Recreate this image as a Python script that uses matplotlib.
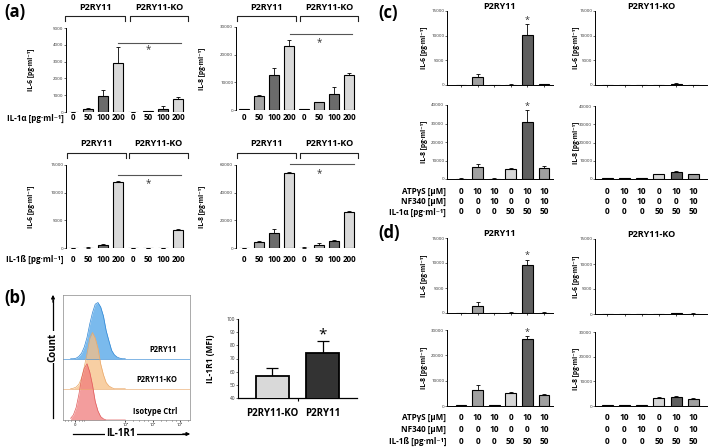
import numpy as np
import matplotlib
matplotlib.use('Agg')
import matplotlib.pyplot as plt
from matplotlib.transforms import blended_transform_factory

plt.rcParams['font.family'] = ['Open Sans', 'DejaVu Sans']

W, H = 709, 447

# ---------------- data ----------------
# (a) dose response, P2RY11 (first 4) and P2RY11-KO (last 4)
dose_labels = ['0', '50', '100', '200', '0', '50', '100', '200']
dose_colors = ['white', '#a6a6a6', '#6b6b6b', '#d9d9d9'] * 2
a_il6_il1a = [20, 200, 950, 2900, 10, 50, 200, 800]
a_il6_il1a_err = [0, 30, 350, 950, 0, 10, 130, 70]
a_il8_il1a = [200, 5000, 12500, 23000, 300, 2800, 5800, 12500]
a_il8_il1a_err = [100, 500, 2500, 2300, 150, 200, 2600, 1000]
a_il6_il1b = [10, 80, 600, 12000, 0, 0, 50, 3200]
a_il6_il1b_err = [0, 40, 200, 150, 0, 0, 30, 300]
a_il8_il1b = [100, 4500, 11000, 54000, 300, 2500, 5000, 26000]
a_il8_il1b_err = [50, 500, 2500, 1000, 100, 800, 500, 500]

# (b) flow histograms (relative counts) and MFI
hist_bins = [1.0, 1.1, 1.2, 1.3, 1.4, 1.5, 1.6, 1.7, 1.8, 1.9, 2.0,
             2.1, 2.2, 2.3, 2.4, 2.5, 2.6, 2.7, 2.8, 2.9, 3.0]
hist_p2ry11 = [0, 0, 0.01, 0.04, 0.1, 0.21, 0.38, 0.62, 0.82, 0.97, 1.0,
               0.92, 0.76, 0.5, 0.32, 0.15, 0.07, 0.03, 0.01, 0, 0]
hist_ko = [0, 0.01, 0.03, 0.08, 0.19, 0.39, 0.63, 0.9, 1.0, 0.9, 0.72,
           0.44, 0.25, 0.11, 0.05, 0.02, 0, 0, 0, 0, 0]
hist_iso = [0.03, 0.09, 0.22, 0.45, 0.74, 0.92, 1.0, 0.85, 0.62, 0.33, 0.16,
            0.06, 0.02, 0, 0, 0, 0, 0, 0, 0, 0]
mfi_labels = ['P2RY11-KO', 'P2RY11']
mfi = [56.5, 74]
mfi_err = [6, 9]

# (c)/(d) stimulation table
atp = ['0', '10', '10', '0', '10', '10']
nf340 = ['0', '0', '10', '0', '0', '10']
il1 = ['0', '0', '0', '50', '50', '50']
cond_colors = ['white', '#a0a0a0', 'white', '#d6d6d6', '#5f5f5f', '#a0a0a0']

c_wt_il6 = [20, 1600, 30, 100, 10100, 150]
c_wt_il6_err = [0, 700, 0, 50, 2300, 100]
c_wt_il8 = [200, 6700, 200, 5200, 31000, 5700]
c_wt_il8_err = [100, 1500, 100, 500, 6300, 1500]
c_ko_il6 = [10, 10, 10, 20, 250, 20]
c_ko_il6_err = [0, 0, 0, 0, 100, 0]
c_ko_il8 = [300, 500, 300, 2700, 4000, 2700]
c_ko_il8_err = [100, 100, 100, 300, 500, 300]

d_wt_il6 = [20, 1500, 30, 80, 9700, 100]
d_wt_il6_err = [0, 700, 0, 30, 1000, 50]
d_wt_il8 = [200, 6500, 200, 5000, 26500, 4500]
d_wt_il8_err = [100, 1700, 100, 500, 1000, 400]
d_ko_il6 = [10, 10, 10, 20, 200, 100]
d_ko_il6_err = [0, 0, 0, 0, 80, 50]
d_ko_il8 = [400, 400, 400, 3200, 3800, 3000]
d_ko_il8_err = [100, 100, 100, 300, 400, 300]

IL6 = 'IL-6 [pg·ml⁻¹]'
IL8 = 'IL-8 [pg·ml⁻¹]'

fig = plt.figure(figsize=(W / 100, H / 100), dpi=100)


def px_ax(x0, y0, x1, y1):
    return fig.add_axes([x0 / W, 1 - y1 / H, (x1 - x0) / W, (y1 - y0) / H])


def fx(x):
    return x / W


def fy(y):
    return 1 - y / H


def bar_panel(box, vals, errs, colors, ymax, ystep, ylabel, xlim, ylab_x,
              xaxis=False, xticks=False):
    ax = px_ax(*box)
    x = np.arange(len(vals))
    ax.bar(x, vals, width=0.64, color=colors, edgecolor='black', linewidth=0.8, zorder=3)
    ax.errorbar(x, vals, yerr=[np.zeros(len(errs)), errs], fmt='none', ecolor='black',
                elinewidth=0.6, capsize=1.6, capthick=0.6, zorder=2)
    ax.set_ylim(0, ymax)
    ax.set_xlim(*xlim)
    ax.set_yticks(np.arange(0, ymax + 1, ystep))
    ax.tick_params(axis='y', labelsize=3.2, length=1.5, width=0.5, pad=0.5, colors='#333333')
    for s in ['top', 'right']:
        ax.spines[s].set_visible(False)
    ax.spines['left'].set_linewidth(0.7)
    if xaxis:
        ax.spines['bottom'].set_linewidth(0.7)
    else:
        ax.spines['bottom'].set_visible(False)
    if xticks:
        ax.set_xticks(x)
        ax.tick_params(axis='x', length=1.5, width=0.5, labelbottom=False)
    else:
        ax.set_xticks([])
    ax.set_ylabel(ylabel, fontsize=4.8, fontweight='bold', labelpad=1)
    ax.yaxis.set_label_coords((ylab_x - box[0]) / (box[2] - box[0]), 0.5)
    return ax


def add_dose_labels(ax, box, ypx, row_label=None):
    tr = blended_transform_factory(ax.transData, ax.transAxes)
    yf = (box[3] - ypx) / (box[3] - box[1])
    for i, t in enumerate(dose_labels):
        ax.text(i, yf, t, transform=tr, ha='center', va='center', fontsize=5.8, fontweight='bold')
    if row_label:
        ax.text(-0.02, yf, row_label, transform=ax.transAxes, ha='right', va='center',
                fontsize=5.8, fontweight='bold')


def bracket(ax, box, x0, x1, label, ytop, ybot, ylab):
    tr = blended_transform_factory(ax.transData, ax.transAxes)
    h = box[3] - box[1]
    yt = (box[3] - ytop) / h
    yb = (box[3] - ybot) / h
    yl = (box[3] - ylab) / h
    ax.plot([x0, x0, x1, x1], [yb, yt, yt, yb], transform=tr, clip_on=False, color='#222222', lw=0.8)
    ax.text((x0 + x1) / 2, yl, label, transform=tr, ha='center', va='center',
            fontsize=6.5, fontweight='bold')


def sig(ax, x0, x1, yline, ystar):
    ax.plot([x0, x1], [yline, yline], color='#555555', lw=0.8, clip_on=False)
    ax.text(5, ystar, '*', ha='center', va='center', fontsize=7, color='#333333')


# ---------------- (a) ----------------
fig.text(fx(4), fy(12), '(a)', fontsize=12, fontweight='bold', va='center')

box = (66, 28, 190, 112)
ax = bar_panel(box, a_il6_il1a, a_il6_il1a_err, dose_colors, 5000, 1000, IL6, (-0.47, 7.8), 35)
bracket(ax, box, -0.53, 3.47, 'P2RY11', 16, 21, 8)
bracket(ax, box, 3.8, 7.67, 'P2RY11-KO', 16, 21, 8)
sig(ax, 3, 7.2, 4100, 3700)
add_dose_labels(ax, box, 118, 'IL-1α [pg·ml⁻¹]')

box = (236, 27, 360, 110)
ax = bar_panel(box, a_il8_il1a, a_il8_il1a_err, dose_colors, 30000, 10000, IL8, (-0.53, 7.73), 206)
bracket(ax, box, -0.47, 3.47, 'P2RY11', 16, 21, 8)
bracket(ax, box, 3.73, 7.6, 'P2RY11-KO', 16, 21, 8)
sig(ax, 3.1, 7.2, 27450, 24300)
add_dose_labels(ax, box, 118)

box = (66, 165, 190, 248)
ax = bar_panel(box, a_il6_il1b, a_il6_il1b_err, dose_colors, 15000, 5000, IL6, (-0.47, 7.8), 35)
bracket(ax, box, -0.4, 3.53, 'P2RY11', 153, 158, 144)
bracket(ax, box, 3.73, 7.67, 'P2RY11-KO', 153, 158, 144)
sig(ax, 3, 7.2, 13200, 11700)
add_dose_labels(ax, box, 259, 'IL-1ß [pg·ml⁻¹]')

box = (236, 165, 360, 248)
ax = bar_panel(box, a_il8_il1b, a_il8_il1b_err, dose_colors, 60000, 20000, IL8, (-0.53, 7.73), 206)
bracket(ax, box, -0.47, 3.47, 'P2RY11', 153, 158, 144)
bracket(ax, box, 3.73, 7.6, 'P2RY11-KO', 153, 158, 144)
sig(ax, 3.1, 7.3, 60600, 54000)
add_dose_labels(ax, box, 259)

# ---------------- (b) ----------------
fig.text(fx(4), fy(298), '(b)', fontsize=12, fontweight='bold', va='center')

axh = px_ax(63, 295, 190, 420)
offsets = [0.49, 0.25, 0.0]
hists = [hist_p2ry11, hist_ko, hist_iso]
fills = ['#4da3e8', '#f6bf85', '#f07c7c']
edges = ['#2f86d4', '#eaa868', '#e05a5a']
names = ['P2RY11', 'P2RY11-KO', 'Isotype Ctrl']
for off, hv, fc, ec, nm in zip(offsets, hists, fills, edges, names):
    top = off + 0.45 * np.array(hv)
    axh.fill_between(hist_bins, off, top, color=fc, alpha=0.75, lw=0)
    axh.plot(hist_bins, top, color=ec, lw=0.5)
    axh.axhline(off, color=ec, lw=0.6, alpha=0.7)
    axh.text(4.9, off + 0.07, nm, ha='right', va='center', fontsize=5.5, fontweight='bold')
axh.set_xlim(0.72, 5.37)
axh.set_ylim(0, 1)
axh.set_yticks([])
axh.set_xticks([1.16, 3, 4, 5], ['0', '10³', '10⁴', '10⁵'])
axh.set_xticks([0.8, 0.9, 1.0, 1.3, 1.4, 1.5, 3.3, 3.5, 3.7, 3.85, 4.3, 4.5, 4.7, 4.85, 5.3], minor=True)
axh.tick_params(axis='x', labelsize=3, length=1.5, width=0.5, pad=0.5)
axh.tick_params(axis='x', which='minor', length=1, width=0.4)
for s in axh.spines.values():
    s.set_linewidth(0.5)
    s.set_color('#888888')

fig.add_artist(plt.Line2D([fx(53), fx(53)], [fy(418), fy(300)], color='black', lw=0.9))
fig.add_artist(matplotlib.patches.FancyArrowPatch((fx(53), fy(305)), (fx(53), fy(292)),
               transform=fig.transFigure, arrowstyle='-|>', mutation_scale=5, color='black', lw=0.9))
fig.text(fx(53), fy(347), 'Count', rotation=90, ha='center', va='center', fontsize=7,
         fontweight='bold', bbox=dict(facecolor='white', edgecolor='none', pad=1))
fig.add_artist(plt.Line2D([fx(73), fx(185)], [fy(434), fy(434)], color='black', lw=0.9))
fig.add_artist(matplotlib.patches.FancyArrowPatch((fx(180), fy(434)), (fx(193), fy(434)),
               transform=fig.transFigure, arrowstyle='-|>', mutation_scale=5, color='black', lw=0.9))
fig.text(fx(121), fy(434), 'IL-1R1', ha='center', va='center', fontsize=7,
         fontweight='bold', bbox=dict(facecolor='white', edgecolor='none', pad=1))

box = (238, 319, 357, 398)
axm = px_ax(*box)
axm.bar([0, 1], mfi, width=0.65, color=['#d9d9d9', '#333333'], edgecolor='black', linewidth=1.3,
        bottom=0, zorder=3)
axm.errorbar([0, 1], mfi, yerr=[[0, 0], mfi_err], fmt='none', ecolor='black', elinewidth=0.9,
             capsize=4, capthick=0.9, zorder=2)
axm.text(1, mfi[1] + mfi_err[1] + 4.5, '*', ha='center', va='center', fontsize=11)
axm.set_ylim(40, 100)
axm.set_xlim(-0.67, 1.67)
axm.set_yticks(np.arange(40, 101, 10))
axm.set_xticks([0.5], [''])
axm.tick_params(axis='x', length=2, width=0.8)
axm.tick_params(axis='y', labelsize=3.5, length=1.5, width=0.5, pad=0.5, colors='#333333')
for s in ['top', 'right']:
    axm.spines[s].set_visible(False)
axm.spines['left'].set_linewidth(0.8)
axm.spines['bottom'].set_linewidth(0.9)
for i, t in enumerate(mfi_labels):
    axm.text(i, -0.19, t, transform=blended_transform_factory(axm.transData, axm.transAxes),
             ha='center', va='center', fontsize=7, fontweight='bold')
axm.set_ylabel('IL-1R1 (MFI)', fontsize=6, fontweight='bold')
axm.yaxis.set_label_coords((215 - 238) / 119, 0.5)


# ---------------- (c) and (d) ----------------
def table(ax, box, rows_px, labels):
    tr = blended_transform_factory(ax.transData, ax.transAxes)
    h = box[3] - box[1]
    for vals, ypx, lab in zip([atp, nf340, il1], rows_px, labels or [None] * 3):
        yf = (box[3] - ypx) / h
        for i, t in enumerate(vals):
            ax.text(i, yf, t, transform=tr, ha='center', va='center', fontsize=6, fontweight='bold')
        if lab:
            ax.text(-0.01, yf, lab, transform=ax.transAxes, ha='right', va='center',
                    fontsize=5.8, fontweight='bold')


def star(ax, vals, errs, ymax):
    ax.text(4, vals[4] + errs[4] + 0.05 * ymax, '*', ha='center', va='center', fontsize=6.5,
            color='#333333', clip_on=False)


xl_wt = (-0.85, 5.55)
xl_ko = (-0.72, 5.8)

fig.text(fx(378), fy(13), '(c)', fontsize=12, fontweight='bold', va='center')
box = (447, 11, 553, 85)
ax = bar_panel(box, c_wt_il6, c_wt_il6_err, cond_colors, 15000, 5000, IL6, xl_wt, 428, True, True)
star(ax, c_wt_il6, c_wt_il6_err, 15000)
ax.set_title('P2RY11', fontsize=6.5, fontweight='bold', pad=1)
box = (447, 105, 553, 179)
ax = bar_panel(box, c_wt_il8, c_wt_il8_err, cond_colors, 40000, 10000, IL8, xl_wt, 428, True)
star(ax, c_wt_il8, c_wt_il8_err, 40000)
table(ax, box, [191, 202, 212], ['ATPγS [µM]', 'NF340 [µM]', 'IL-1α [pg·ml⁻¹]'])

box = (595, 11, 707, 85)
ax = bar_panel(box, c_ko_il6, c_ko_il6_err, cond_colors, 15000, 5000, IL6, xl_ko, 580, True, True)
ax.set_title('P2RY11-KO', fontsize=6.5, fontweight='bold', pad=1)
box = (595, 106, 707, 179)
ax = bar_panel(box, c_ko_il8, c_ko_il8_err, cond_colors, 40000, 10000, IL8, xl_ko, 580, True)
table(ax, box, [191, 202, 212], None)

fig.text(fx(378), fy(233), '(d)', fontsize=12, fontweight='bold', va='center')
box = (447, 238, 553, 313)
ax = bar_panel(box, d_wt_il6, d_wt_il6_err, cond_colors, 15000, 5000, IL6, xl_wt, 428, True, True)
star(ax, d_wt_il6, d_wt_il6_err, 15000)
ax.set_title('P2RY11', fontsize=6.5, fontweight='bold', pad=1)
box = (447, 330, 553, 406)
ax = bar_panel(box, d_wt_il8, d_wt_il8_err, cond_colors, 30000, 10000, IL8, xl_wt, 428, True)
star(ax, d_wt_il8, d_wt_il8_err, 30000)
table(ax, box, [417, 429, 441], ['ATPγS [µM]', 'NF340 [µM]', 'IL-1ß [pg·ml⁻¹]'])

box = (595, 239, 707, 314)
ax = bar_panel(box, d_ko_il6, d_ko_il6_err, cond_colors, 15000, 5000, IL6, xl_ko, 580, True, True)
ax.set_title('P2RY11-KO', fontsize=6.5, fontweight='bold', pad=1)
box = (595, 332, 707, 406)
ax = bar_panel(box, d_ko_il8, d_ko_il8_err, cond_colors, 30000, 10000, IL8, xl_ko, 580, True)
table(ax, box, [417, 429, 441], None)

fig.savefig('out.png', dpi=100)
